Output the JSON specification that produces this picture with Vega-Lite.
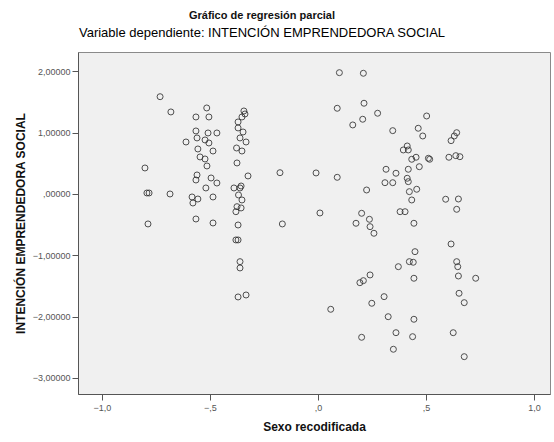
{
  "$schema": "https://vega.github.io/schema/vega-lite/v6.json",
  "autosize": "none",
  "width": 472,
  "height": 342,
  "padding": {"left": 78, "top": 52, "right": 4, "bottom": 48},
  "background": "#ffffff",
  "title": {
    "text": "Gráfico de regresión parcial",
    "subtitle": "Variable dependiente: INTENCIÓN EMPRENDEDORA SOCIAL",
    "anchor": "middle",
    "dx": -52,
    "offset": 12,
    "font": "Liberation Sans",
    "fontSize": 11,
    "fontWeight": "bold",
    "color": "#111",
    "subtitleFont": "Liberation Sans",
    "subtitleFontSize": 13,
    "subtitleColor": "#000",
    "subtitlePadding": 6
  },
  "config": {
    "view": {"fill": "#f0f0f0", "stroke": "#8a8a8a", "strokeWidth": 1},
    "axis": {
      "grid": false,
      "domainColor": "#555",
      "tickColor": "#555",
      "tickSize": 6,
      "labelFont": "Liberation Sans",
      "labelFontSize": 9,
      "labelColor": "#555",
      "titleFont": "Liberation Sans",
      "titleFontSize": 12,
      "titleFontWeight": "bold",
      "titleColor": "#111"
    }
  },
  "data": {
    "values": [
      {"x": -0.731, "y": 1.587}, {"x": -0.681, "y": 1.338}, {"x": -0.515, "y": 1.403}, {"x": -0.565, "y": 1.256},
      {"x": -0.505, "y": 1.256}, {"x": -0.565, "y": 1.028}, {"x": -0.509, "y": 0.995}, {"x": -0.468, "y": 0.995},
      {"x": -0.611, "y": 0.848}, {"x": -0.560, "y": 0.914}, {"x": -0.523, "y": 0.881}, {"x": -0.505, "y": 0.832},
      {"x": -0.556, "y": 0.734}, {"x": -0.486, "y": 0.701}, {"x": -0.546, "y": 0.604}, {"x": -0.523, "y": 0.571},
      {"x": -0.514, "y": 0.457}, {"x": -0.560, "y": 0.310}, {"x": -0.565, "y": 0.228}, {"x": -0.495, "y": 0.261},
      {"x": -0.468, "y": 0.179}, {"x": -0.519, "y": 0.098}, {"x": -0.801, "y": 0.424}, {"x": -0.782, "y": 0.016},
      {"x": -0.792, "y": 0.016}, {"x": -0.685, "y": 0.0}, {"x": -0.583, "y": -0.049}, {"x": -0.556, "y": -0.082},
      {"x": -0.579, "y": -0.147}, {"x": -0.486, "y": -0.049}, {"x": -0.787, "y": -0.489}, {"x": -0.565, "y": -0.408},
      {"x": -0.486, "y": -0.473},
      {"x": -0.343, "y": 1.354}, {"x": -0.338, "y": 1.305}, {"x": -0.352, "y": 1.256}, {"x": -0.370, "y": 1.175},
      {"x": -0.370, "y": 1.077}, {"x": -0.347, "y": 1.011}, {"x": -0.361, "y": 0.914}, {"x": -0.333, "y": 0.848},
      {"x": -0.377, "y": 0.750}, {"x": -0.352, "y": 0.701}, {"x": -0.375, "y": 0.506}, {"x": -0.324, "y": 0.294},
      {"x": -0.389, "y": 0.098}, {"x": -0.361, "y": 0.098}, {"x": -0.356, "y": 0.130}, {"x": -0.368, "y": -0.016},
      {"x": -0.352, "y": -0.098}, {"x": -0.375, "y": -0.207}, {"x": -0.356, "y": -0.228}, {"x": -0.380, "y": -0.289},
      {"x": -0.370, "y": -0.506}, {"x": -0.380, "y": -0.750}, {"x": -0.370, "y": -0.750}, {"x": -0.361, "y": -1.104},
      {"x": -0.361, "y": -1.207}, {"x": -0.370, "y": -1.680}, {"x": -0.333, "y": -1.648},
      {"x": -0.176, "y": 0.347}, {"x": -0.165, "y": -0.489}, {"x": -0.009, "y": 0.343}, {"x": 0.009, "y": -0.310},
      {"x": 0.099, "y": 1.979}, {"x": 0.210, "y": 1.969}, {"x": 0.089, "y": 1.398}, {"x": 0.213, "y": 1.480},
      {"x": 0.207, "y": 1.219}, {"x": 0.276, "y": 1.317}, {"x": 0.161, "y": 1.126}, {"x": 0.346, "y": 1.033},
      {"x": 0.503, "y": 1.272}, {"x": 0.464, "y": 1.072}, {"x": 0.485, "y": 0.946}, {"x": 0.413, "y": 0.783},
      {"x": 0.395, "y": 0.718}, {"x": 0.418, "y": 0.718}, {"x": 0.434, "y": 0.566}, {"x": 0.454, "y": 0.599},
      {"x": 0.511, "y": 0.582}, {"x": 0.469, "y": 0.445}, {"x": 0.315, "y": 0.403}, {"x": 0.361, "y": 0.338},
      {"x": 0.418, "y": 0.403}, {"x": 0.089, "y": 0.272}, {"x": 0.310, "y": 0.184}, {"x": 0.346, "y": 0.184},
      {"x": 0.413, "y": 0.256}, {"x": 0.418, "y": 0.201}, {"x": 0.225, "y": 0.065}, {"x": 0.423, "y": 0.038},
      {"x": 0.457, "y": 0.077}, {"x": 0.434, "y": -0.098}, {"x": 0.202, "y": -0.315}, {"x": 0.238, "y": -0.413},
      {"x": 0.176, "y": -0.478}, {"x": 0.241, "y": -0.533}, {"x": 0.259, "y": -0.641}, {"x": 0.380, "y": -0.289},
      {"x": 0.403, "y": -0.289}, {"x": 0.444, "y": -0.478}, {"x": 0.449, "y": -0.941}, {"x": 0.423, "y": -1.104},
      {"x": 0.441, "y": -1.114}, {"x": 0.372, "y": -1.186}, {"x": 0.444, "y": -1.375}, {"x": 0.241, "y": -1.321},
      {"x": 0.210, "y": -1.414}, {"x": 0.194, "y": -1.447}, {"x": 0.306, "y": -1.675}, {"x": 0.249, "y": -1.783},
      {"x": 0.059, "y": -1.881}, {"x": 0.325, "y": -2.002}, {"x": 0.444, "y": -2.044}, {"x": 0.202, "y": -2.338},
      {"x": 0.361, "y": -2.263}, {"x": 0.438, "y": -2.328}, {"x": 0.349, "y": -2.533},
      {"x": 0.642, "y": 1.000}, {"x": 0.631, "y": 0.946}, {"x": 0.616, "y": 0.870}, {"x": 0.517, "y": 0.566},
      {"x": 0.606, "y": 0.599}, {"x": 0.638, "y": 0.625}, {"x": 0.657, "y": 0.608}, {"x": 0.591, "y": -0.086},
      {"x": 0.650, "y": -0.082}, {"x": 0.642, "y": -0.250}, {"x": 0.616, "y": -0.816}, {"x": 0.642, "y": -1.104},
      {"x": 0.647, "y": -1.186}, {"x": 0.650, "y": -1.338}, {"x": 0.730, "y": -1.375}, {"x": 0.653, "y": -1.620},
      {"x": 0.677, "y": -1.773}, {"x": 0.626, "y": -2.263}, {"x": 0.677, "y": -2.654}
    ]
  },
  "mark": {"type": "point", "shape": "circle", "filled": false, "size": 36, "stroke": "#333", "strokeWidth": 1, "opacity": 0.85},
  "encoding": {
    "x": {
      "field": "x", "type": "quantitative",
      "scale": {"domain": [-1.111, 1.074], "nice": false, "zero": false},
      "axis": {
        "title": "Sexo recodificada",
        "values": [-1, -0.5, 0, 0.5, 1],
        "labelExpr": "replace(replace(format(datum.value, '.1f'), '0.', '.'), '.', ',')",
        "labelPadding": 3,
        "titlePadding": 9
      }
    },
    "y": {
      "field": "y", "type": "quantitative",
      "scale": {"domain": [-3.263, 2.316], "nice": false, "zero": false},
      "axis": {
        "title": "INTENCIÓN EMPRENDEDORA SOCIAL",
        "values": [-3, -2, -1, 0, 1, 2],
        "labelExpr": "replace(replace(format(datum.value, '.5f'), '0.', '.'), '.', ',')",
        "labelPadding": 2,
        "titlePadding": 5
      }
    }
  }
}
